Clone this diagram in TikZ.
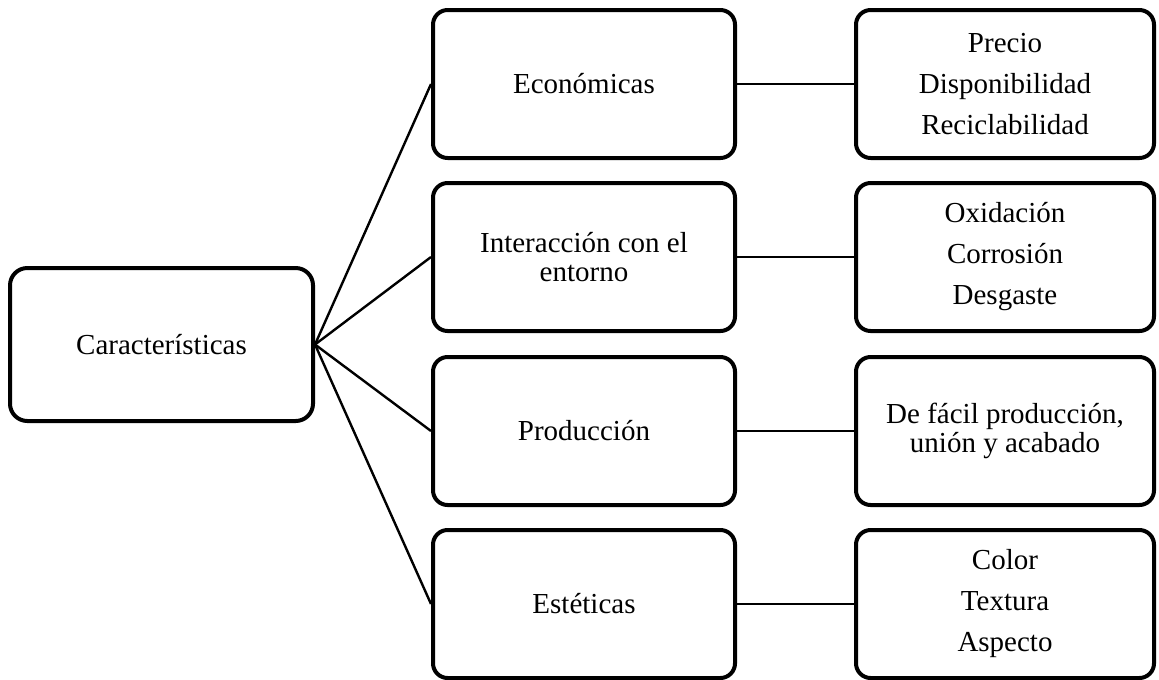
\documentclass[tikz,border=0pt]{standalone}
\usepackage{fontspec}
\setmainfont{Liberation Serif}
\begin{document}
\begin{tikzpicture}[x=0.75pt,y=-0.75pt,
  box/.style={draw, line width=3pt, rounded corners=11pt, align=center, inner sep=0pt,
    font=\fontsize{21.75pt}{21.75pt}\selectfont},
  mid/.style={box, minimum width=226.5pt, minimum height=111pt},
  res/.style={box, minimum width=223.5pt, minimum height=111pt},
  link/.style={line width=1.8pt}]
\useasboundingbox (0,0) rectangle (1159,679);
\node[box, minimum width=227.25pt, minimum height=114.75pt, rounded corners=13pt] (car) at (161.5,344.5) {Características};
\node[mid] (eco) at (584,84) {Económicas};
\node[mid] (int) at (584,257) {Interacción con el\\entorno};
\node[mid] (pro) at (584,431) {Producción};
\node[mid] (est) at (584,604) {Estéticas};
\node[res] (r1) at (1005,84) {Precio\\[9pt]Disponibilidad\\[9pt]Reciclabilidad};
\node[res] (r2) at (1005,257) {Oxidación\\[9pt]Corrosión\\[9pt]Desgaste};
\node[res] (r3) at (1005,431) {De fácil producción,\\unión y acabado};
\node[res] (r4) at (1005,604) {Color\\[9pt]Textura\\[9pt]Aspecto};
\foreach \m in {eco,int,pro,est} \draw[link] (car.east) -- (\m.west);
\draw[link] (eco.east) -- (r1.west);
\draw[link] (int.east) -- (r2.west);
\draw[link] (pro.east) -- (r3.west);
\draw[link] (est.east) -- (r4.west);
\end{tikzpicture}
\end{document}
